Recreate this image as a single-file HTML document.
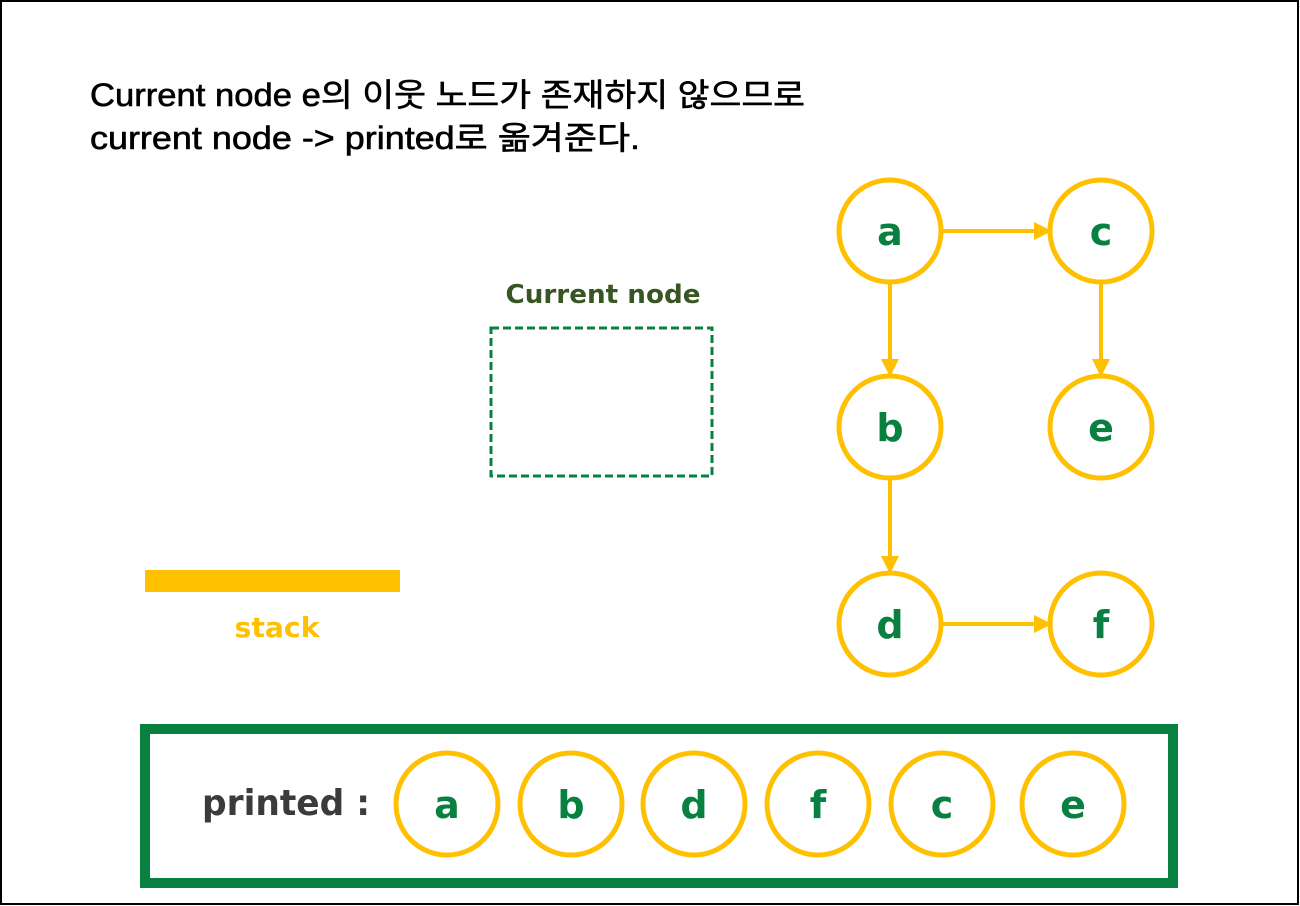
<!DOCTYPE html>
<html><head><meta charset="utf-8"><style>
body{margin:0;background:#fff}
svg{display:block}
</style></head><body>
<svg width="1300" height="906" xmlns="http://www.w3.org/2000/svg">
<rect x="1" y="1" width="1297" height="903" fill="#fff" stroke="#000" stroke-width="2"/>
<g font-family="Liberation Sans, 'Noto Sans CJK KR', sans-serif" font-size="32" fill="#000" stroke="#000" stroke-width="0.6">
<text x="90" y="106" textLength="715" lengthAdjust="spacingAndGlyphs">Current node e의 이웃 노드가 존재하지 않으므로</text>
<text x="90" y="149" textLength="550" lengthAdjust="spacingAndGlyphs">current node -&gt; printed로 옮겨준다.</text>
</g>
<text x="603" y="303" text-anchor="middle" font-family="DejaVu Sans, sans-serif" font-weight="bold" font-size="26" fill="#375623" textLength="195" lengthAdjust="spacingAndGlyphs">Current node</text>
<rect x="491" y="328" width="221" height="148" fill="none" stroke="#088040" stroke-width="3" stroke-dasharray="8,4"/>
<rect x="145" y="570" width="255" height="22" fill="#FFC000"/>
<text x="277" y="637" text-anchor="middle" font-family="DejaVu Sans, sans-serif" font-weight="bold" font-size="28" fill="#FFC000" textLength="85" lengthAdjust="spacingAndGlyphs">stack</text>
<g stroke="#FFC000" stroke-width="4" fill="none">
<line x1="943" y1="231" x2="1040" y2="231"/>
<line x1="890" y1="284" x2="890" y2="364"/>
<line x1="1101" y1="284" x2="1101" y2="364"/>
<line x1="890" y1="480" x2="890" y2="561"/>
<line x1="943" y1="624" x2="1040" y2="624"/>
</g>
<g fill="#FFC000">
<path d="M1052,231 l-18,-9 v18z"/>
<path d="M890,377 l-9,-18 h18z"/>
<path d="M1101,377 l-9,-18 h18z"/>
<path d="M890,574 l-9,-18 h18z"/>
<path d="M1052,624 l-18,-9 v18z"/>
</g>
<g fill="#fff" stroke="#FFC000" stroke-width="5">
<circle cx="890" cy="231" r="51"/><circle cx="1101" cy="231" r="51"/>
<circle cx="890" cy="427" r="51"/><circle cx="1101" cy="427" r="51"/>
<circle cx="890" cy="624" r="51"/><circle cx="1101" cy="624" r="51"/>
<circle cx="447" cy="804" r="51"/><circle cx="571" cy="804" r="51"/>
<circle cx="694" cy="804" r="51"/><circle cx="818" cy="804" r="51"/>
<circle cx="942" cy="804" r="51"/><circle cx="1073" cy="804" r="51"/>
</g>
<g font-family="DejaVu Sans, sans-serif" font-weight="bold" font-size="38" fill="#088040" text-anchor="middle">
<text x="890" y="245">a</text><text x="1101" y="245">c</text>
<text x="890" y="441">b</text><text x="1101" y="441">e</text>
<text x="890" y="638">d</text><text x="1101" y="638">f</text>
<text x="447" y="818">a</text><text x="571" y="818">b</text>
<text x="694" y="818">d</text><text x="818" y="818">f</text>
<text x="942" y="818">c</text><text x="1073" y="818">e</text>
</g>
<rect x="145" y="729" width="1028" height="154" fill="none" stroke="#088040" stroke-width="10"/>
<text x="202" y="815" font-family="DejaVu Sans, sans-serif" font-weight="bold" font-size="36" fill="#3b3b3b" textLength="168" lengthAdjust="spacingAndGlyphs">printed :</text>
</svg>
</body></html>
